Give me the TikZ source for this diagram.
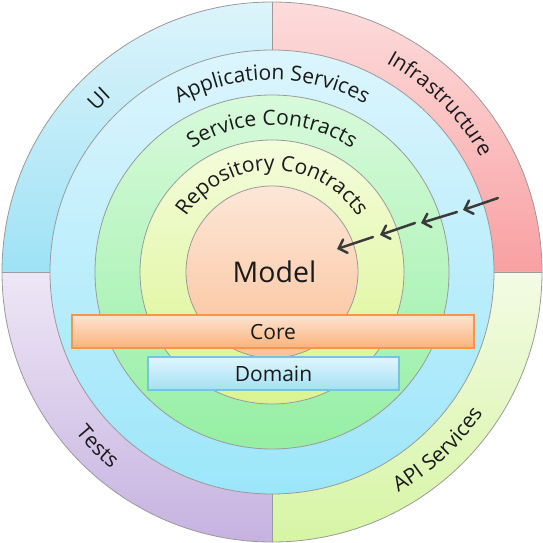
\documentclass[tikz,border=0pt]{standalone}
\usepackage{fontspec}
\setmainfont{Open Sans}
\usetikzlibrary{decorations.text,arrows.meta}
\definecolor{uiT}{HTML}{DDF4FB}\definecolor{uiB}{HTML}{9EE2F6}
\definecolor{inT}{HTML}{FDDCDC}\definecolor{inB}{HTML}{F9A0A2}
\definecolor{teT}{HTML}{EEE7F6}\definecolor{teB}{HTML}{C6B2E0}
\definecolor{apT}{HTML}{F3FBE4}\definecolor{apB}{HTML}{D6F5A4}
\definecolor{asT}{HTML}{DCF5FD}\definecolor{asB}{HTML}{9CE6FA}
\definecolor{scT}{HTML}{D8FADB}\definecolor{scB}{HTML}{95EFA4}
\definecolor{rcT}{HTML}{F4FCDC}\definecolor{rcB}{HTML}{DAF58E}
\definecolor{moT}{HTML}{FDE7D8}\definecolor{moB}{HTML}{FAC29A}
\definecolor{coT}{HTML}{FDE4D3}\definecolor{coB}{HTML}{FBB27A}\definecolor{coD}{HTML}{F79646}
\definecolor{doT}{HTML}{E0F6FD}\definecolor{doB}{HTML}{A3E0F4}\definecolor{doD}{HTML}{72C6E4}
\definecolor{ringline}{HTML}{9A9A9A}
\definecolor{arrowc}{HTML}{3A3A3A}
\definecolor{txt}{HTML}{1A1A1A}
\newcommand\ringfont{\fontsize{21pt}{25pt}\selectfont}
\tikzset{
  ring/.style={circle, inner sep=0pt, draw=ringline, line width=0.8pt},
  ringlabel/.style={decorate, decoration={text along path, text align=center, text color=txt, text={|\ringfont|#1}}},
  bar/.style={rectangle, inner sep=0pt, line width=1.2pt, text=txt, font=\fontsize{21pt}{25pt}\selectfont},
  arr/.style={draw=arrowc, line width=2.5pt, line cap=round, -{Straight Barb[length=7pt,width=14pt,line cap=round]}},
}
\begin{document}
\begin{tikzpicture}[x=1pt,y=1pt]
\useasboundingbox (-272,-271) rectangle (271,272);
% outer ring quadrants
\shade[top color=uiT, bottom color=uiB] (0,0) -- (180:270pt) arc[start angle=180,end angle=90,radius=270pt] -- cycle;
\shade[top color=inT, bottom color=inB] (0,0) -- (90:270pt) arc[start angle=90,end angle=0,radius=270pt] -- cycle;
\shade[top color=teT, bottom color=teB] (0,0) -- (180:270pt) arc[start angle=180,end angle=270,radius=270pt] -- cycle;
\shade[top color=apT, bottom color=apB] (0,0) -- (270:270pt) arc[start angle=270,end angle=360,radius=270pt] -- cycle;
\node[ring, minimum size=540pt] (outer) at (0,0) {};
\draw[ringline, line width=0.5pt] (0,-270) -- (0,270) (-270,0) -- (270,0);
% inner rings
\node[ring, minimum size=444pt, top color=asT, bottom color=asB] (appsvc) at (0,0) {};
\node[ring, minimum size=354pt, top color=scT, bottom color=scB] (svccon) at (0,0) {};
\node[ring, minimum size=264pt, top color=rcT, bottom color=rcB] (repcon) at (0,0) {};
\node[ring, minimum size=172pt, top color=moT, bottom color=moB] (model) at (0,0) {};
% ring labels
\path[ringlabel=UI] (160:238pt) arc[start angle=160,end angle=110,radius=238pt];
\path[ringlabel=Infrastructure] (85:238pt) arc[start angle=85,end angle=5,radius=238pt];
\path[ringlabel=Tests] (195:254pt) arc[start angle=195,end angle=255,radius=254pt];
\path[ringlabel=API Services] (278:254pt) arc[start angle=278,end angle=348,radius=254pt];
\path[ringlabel=Application Services] (150:192pt) arc[start angle=150,end angle=30,radius=192pt];
\path[ringlabel=Service Contracts] (160:147pt) arc[start angle=160,end angle=20,radius=147pt];
\path[ringlabel=Repository Contracts] (175:102pt) arc[start angle=175,end angle=5,radius=102pt];
% model text
\node[text=txt, font=\fontsize{28.5pt}{33pt}\selectfont] (modeltxt) at (2.5,0.5) {Model};
% bars
\node[bar, draw=coD, top color=coT, bottom color=coB, minimum width=402pt, minimum height=33pt] (core) at (1,-59.5) {Core};
\node[bar, draw=doD, top color=doT, bottom color=doB, minimum width=251pt, minimum height=33pt] (domain) at (1.5,-101.5) {Domain};
% arrows
\coordinate (a1s) at (226,74); \coordinate (a1e) at (191,62);
\coordinate (a2s) at (185,60); \coordinate (a2e) at (149,49);
\coordinate (a3s) at (143,49); \coordinate (a3e) at (108,37);
\coordinate (a4s) at (101,35); \coordinate (a4e) at (65,23);
\draw[arr] (a1s) -- (a1e);
\draw[arr] (a2s) -- (a2e);
\draw[arr] (a3s) -- (a3e);
\draw[arr] (a4s) -- (a4e);
\end{tikzpicture}
\end{document}
